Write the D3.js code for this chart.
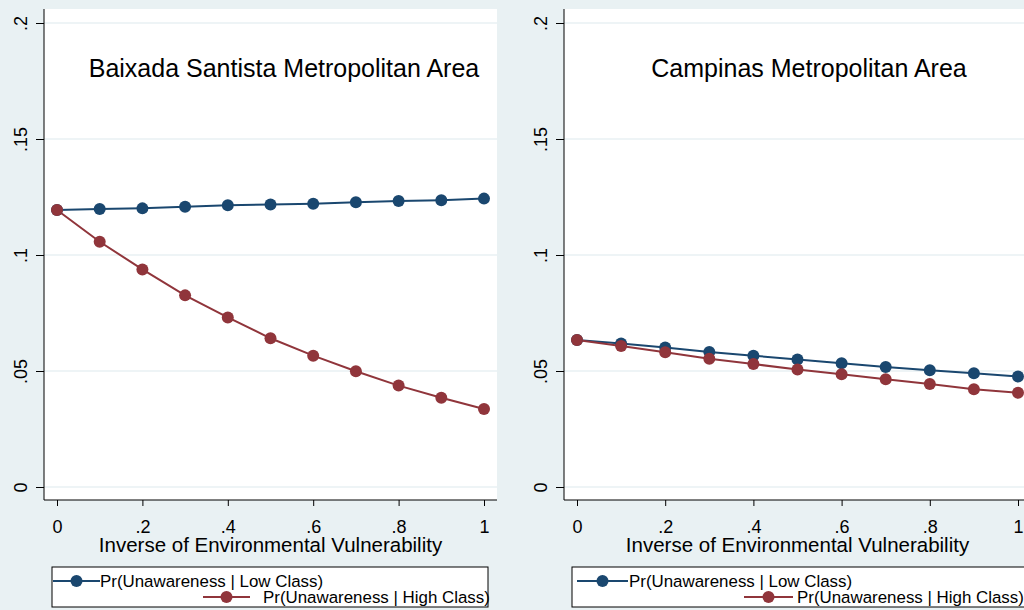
<!DOCTYPE html>
<html><head><meta charset="utf-8">
<script src="https://cdn.jsdelivr.net/npm/d3@7"></script>
<style>body{margin:0;background:#e9f1f3;} svg{display:block;font-family:"Liberation Sans",Arial,sans-serif;}</style>
</head><body>
<svg id="c" width="1024" height="610"></svg>
<script>
const xValues = [0, 0.1, 0.2, 0.3, 0.4, 0.5, 0.6, 0.7, 0.8, 0.9, 1];
const xTicks = [0, 0.2, 0.4, 0.6, 0.8, 1];
const xTickLabels = ["0", ".2", ".4", ".6", ".8", "1"];
const yTicks = [0, 0.05, 0.1, 0.15, 0.2];
const yTickLabels = ["0", ".05", ".1", ".15", ".2"];
const panelTitles = ["Baixada Santista Metropolitan Area", "Campinas Metropolitan Area"];
const seriesNames = ["Pr(Unawareness | Low Class)", "Pr(Unawareness | High Class)"];
const baixadaLow  = [0.1194, 0.1198, 0.1201, 0.1208, 0.1214, 0.1218, 0.1221, 0.1227, 0.1233, 0.1236, 0.1243];
const baixadaHigh = [0.1194, 0.1057, 0.0938, 0.0826, 0.0731, 0.0641, 0.0566, 0.0499, 0.0437, 0.0385, 0.0336];
const campinasLow  = [0.0634, 0.0619, 0.0601, 0.0582, 0.0566, 0.0550, 0.0533, 0.0517, 0.0503, 0.0490, 0.0476];
const campinasHigh = [0.0634, 0.0608, 0.0581, 0.0553, 0.0530, 0.0506, 0.0486, 0.0464, 0.0444, 0.0421, 0.0406];

const colors = ["#1a476f", "#90353b"];
const svg = d3.select("#c");
svg.append("rect").attr("width",1024).attr("height",610).attr("fill","#e9f1f3");

const panels = [
  {axisX:44, right:497, x0:57, x1:484, title:panelTitles[0], titleX:284, data:[baixadaLow, baixadaHigh],
   legend:{x:52, w:436, l1:[53,100], t1:100, l2:[203,250], t2:263}},
  {axisX:564, right:1031, x0:577, x1:1018, title:panelTitles[1], titleX:809, data:[campinasLow, campinasHigh],
   legend:{x:572, w:470, l1:[577,628], t1:629, l2:[744,793], t2:797}}
];

const plotTop = 9, plotBottom = 500;
const y = d3.scaleLinear().domain([0,0.2]).range([487,23]);

panels.forEach(p => {
  const g = svg.append("g");
  const x = d3.scaleLinear().domain([0,1]).range([p.x0,p.x1]);
  g.append("rect").attr("x",p.axisX).attr("y",plotTop).attr("width",p.right-p.axisX).attr("height",plotBottom-plotTop).attr("fill","#ffffff");
  // grid
  g.selectAll(".grid").data(yTicks).enter().append("line")
    .attr("x1",p.axisX).attr("x2",p.right).attr("y1",d=>y(d)).attr("y2",d=>y(d))
    .attr("stroke","#e9f1f3").attr("stroke-width",1.5);
  // y axis
  const yAxis = d3.axisLeft(y).tickValues(yTicks).tickFormat((d,i)=>yTickLabels[i]).tickSize(8).tickPadding(6);
  const ya = g.append("g").attr("transform",`translate(${p.axisX},0)`).call(yAxis);
  ya.select(".domain").attr("d",`M0,${plotTop}V${plotBottom}`).attr("stroke","#000");
  ya.selectAll(".tick line").attr("stroke","#000");
  ya.selectAll(".tick text").attr("font-size",18).attr("fill","#000")
    .attr("text-anchor","middle").attr("x",0).attr("y",0)
    .attr("transform","translate(-17,0) rotate(-90)").attr("dy","0");
  // x axis
  const xAxis = d3.axisBottom(x).tickValues(xTicks).tickFormat((d,i)=>xTickLabels[i]).tickSize(6).tickPadding(14);
  const xa = g.append("g").attr("transform",`translate(0,${plotBottom})`).call(xAxis);
  xa.select(".domain").attr("d",`M${p.axisX},0H${p.right}`).attr("stroke","#000");
  xa.selectAll(".tick line").attr("stroke","#000");
  xa.selectAll(".tick text").attr("font-size",18).attr("fill","#000");
  g.append("text").attr("x",(p.x0+p.x1)/2).attr("y",552).attr("text-anchor","middle")
    .attr("font-size",20.5).attr("fill","#000").text("Inverse of Environmental Vulnerability");
  // title
  g.append("text").attr("x",p.titleX).attr("y",77).attr("text-anchor","middle")
    .attr("font-size",25).attr("fill","#000").text(p.title);
  // series
  const line = d3.line().x((d,i)=>x(xValues[i])).y(d=>y(d));
  p.data.forEach((s,si) => {
    g.append("path").datum(s).attr("d",line).attr("fill","none").attr("stroke",colors[si]).attr("stroke-width",2);
  });
  p.data.forEach((s,si) => {
    g.selectAll(null).data(s).enter().append("circle")
      .attr("cx",(d,i)=>x(xValues[i])).attr("cy",d=>y(d)).attr("r",6).attr("fill",colors[si]);
  });
  // legend
  const L = p.legend;
  g.append("rect").attr("x",L.x).attr("y",567).attr("width",L.w).attr("height",40)
    .attr("fill","#fff").attr("stroke","#000").attr("stroke-width",1);
  const rows = [{l:L.l1, t:L.t1, yy:581, base:587}, {l:L.l2, t:L.t2, yy:597, base:603}];
  rows.forEach((r,ri) => {
    g.append("line").attr("x1",r.l[0]).attr("x2",r.l[1]).attr("y1",r.yy).attr("y2",r.yy)
      .attr("stroke",colors[ri]).attr("stroke-width",2);
    g.append("circle").attr("cx",(r.l[0]+r.l[1])/2).attr("cy",r.yy).attr("r",6).attr("fill",colors[ri]);
    g.append("text").attr("x",r.t).attr("y",r.base).attr("font-size",16.9).attr("fill","#000").text(seriesNames[ri]);
  });
});
</script>
</body></html>
